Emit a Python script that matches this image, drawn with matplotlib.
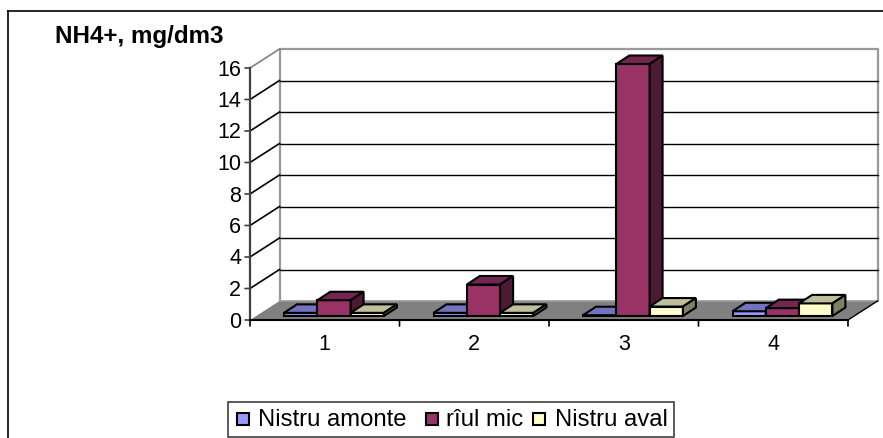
import matplotlib
matplotlib.use('Agg')
import matplotlib.pyplot as plt
from matplotlib.patches import Polygon, Rectangle

# values
categories = ['1', '2', '3', '4']
nistru_amonte = [0.2, 0.2, 0.05, 0.3]
riul_mic = [1.0, 2.0, 16.0, 0.5]
nistru_aval = [0.2, 0.2, 0.6, 0.8]
series_names = ['Nistru amonte', 'rîul mic', 'Nistru aval']
y_ticks = [0, 2, 4, 6, 8, 10, 12, 14, 16]

W, H = 883, 438
# front, top, side colours of each series
colors = [('#9999ff', '#7272bf', '#4c4c80'),
          ('#993366', '#732650', '#4d1a33'),
          ('#ffffcc', '#bfbf99', '#808066')]

plt.rcParams['font.family'] = ['Liberation Sans', 'DejaVu Sans']
fig = plt.figure(figsize=(W / 100, H / 100), dpi=100)

# axes box is the front of the floor, one x unit per category
ax = fig.add_axes([250 / W, 1 - 320 / H, 598 / W, 252 / H])
ax.set_xlim(0, 4)
ax.set_ylim(0, 16)
ax.axis('off')

# depth offsets in data units (px / scale)
px_x = 4 / 598
px_y = 16 / 252
wall_dx, wall_dy = 29.5 * px_x, 19 * px_y
bar_dx, bar_dy = 13 * px_x, 8.5 * px_y
base_dx, base_dy = 8 * px_x, 4 * px_y
bar_w = 33.3 * px_x
first_gap = 34 * px_x


def poly(pts, fc, ec='black', lw=1.5, z=2):
    ax.add_patch(Polygon(pts, closed=True, fc=fc, ec=ec, lw=lw, zorder=z,
                         clip_on=False, joinstyle='miter'))


# floor and walls
poly([(0, 0), (4, 0), (4 + wall_dx, wall_dy), (wall_dx, wall_dy)], '#808080', 'none', 0, 1)
ax.plot([wall_dx, wall_dx, 4 + wall_dx, 4 + wall_dx],
        [wall_dy, 16 + wall_dy, 16 + wall_dy, wall_dy], color='#999999', lw=1.6,
        clip_on=False, zorder=1)
ax.plot([wall_dx, 4 + wall_dx], [wall_dy, wall_dy], color='#999999', lw=1.2,
        clip_on=False, zorder=1)
ax.plot([4, 4 + wall_dx], [0, wall_dy], color='black', lw=1, clip_on=False, zorder=1)
for t in y_ticks[1:]:
    c = '#808080' if t == 16 else 'black'
    ax.plot([0, wall_dx], [t, t + wall_dy], color=c, lw=1.2, clip_on=False, zorder=1)
    if t < 16:
        ax.plot([wall_dx, 4 + wall_dx], [t + wall_dy, t + wall_dy], color='black', lw=1,
                clip_on=False, zorder=1)

# axes lines, ticks and labels
ax.plot([0, 0], [0, 16], color='#404040', lw=1.6, clip_on=False, zorder=3)
ax.plot([0, 4], [0, 0], color='black', lw=1.5, clip_on=False, zorder=3)
for t in y_ticks:
    ax.annotate('', (0, t), xytext=(-5, 0), textcoords='offset pixels',
                arrowprops=dict(arrowstyle='-', color='#404040', lw=1.2, shrinkA=0, shrinkB=0))
    ax.annotate(str(t), (0, t), xytext=(-9, -2), textcoords='offset pixels',
                ha='right', va='center', fontsize=15.5, color='black')
for i in range(5):
    ax.annotate('', (i, 0), xytext=(0, -6), textcoords='offset pixels',
                arrowprops=dict(arrowstyle='-', color='black', lw=1.2, shrinkA=0, shrinkB=0))
for i, lab in enumerate(categories):
    ax.annotate(lab, (i + 0.5, 0), xytext=(0, -24), textcoords='offset pixels',
                ha='center', va='center', fontsize=15.5, color='black')


def bar3d(x, h, cols):
    x0 = x + base_dx
    x1 = x0 + bar_w
    y0 = base_dy
    y1 = base_dy + h
    z = 4 + x
    poly([(x0, y0), (x1, y0), (x1, y1), (x0, y1)], cols[0], z=z)
    poly([(x0, y1), (x1, y1), (x1 + bar_dx, y1 + bar_dy), (x0 + bar_dx, y1 + bar_dy)], cols[1], z=z)
    poly([(x1, y0), (x1 + bar_dx, y0 + bar_dy), (x1 + bar_dx, y1 + bar_dy), (x1, y1)], cols[2], z=z)


all_series = [nistru_amonte, riul_mic, nistru_aval]
for c in range(len(categories)):
    for s, vals in enumerate(all_series):
        bar3d(c + first_gap - base_dx + s * bar_w, vals[c], colors[s])

# outer frame, title, legend are in pixel coordinates of the figure
def fx(x):
    return x / W


def fy(y):
    return 1 - y / H


fig.add_artist(plt.Line2D([fx(8), fx(8)], [fy(11), fy(438)], color='black', lw=1.2))
fig.add_artist(plt.Line2D([fx(8), fx(883)], [fy(11), fy(11)], color='black', lw=1.2))
fig.text(fx(55), fy(36), 'NH4+, mg/dm3', fontsize=17.4, fontweight='bold', va='center', ha='left')

fig.add_artist(Rectangle((fx(228), fy(437)), (674 - 228) / W, 35 / H, fc='white', ec='#404040',
                         lw=1.2, transform=fig.transFigure))
leg_box = [237, 426, 533]
leg_text = [258, 446, 555]
for s, name in enumerate(series_names):
    fig.add_artist(Rectangle((fx(leg_box[s]), fy(425)), 12 / W, 12 / H, fc=colors[s][0], ec='black',
                             lw=1.5, transform=fig.transFigure))
    fig.text(fx(leg_text[s]), fy(420), name, fontsize=17.2, va='center', ha='left')

fig.savefig('out.png', dpi=100)
